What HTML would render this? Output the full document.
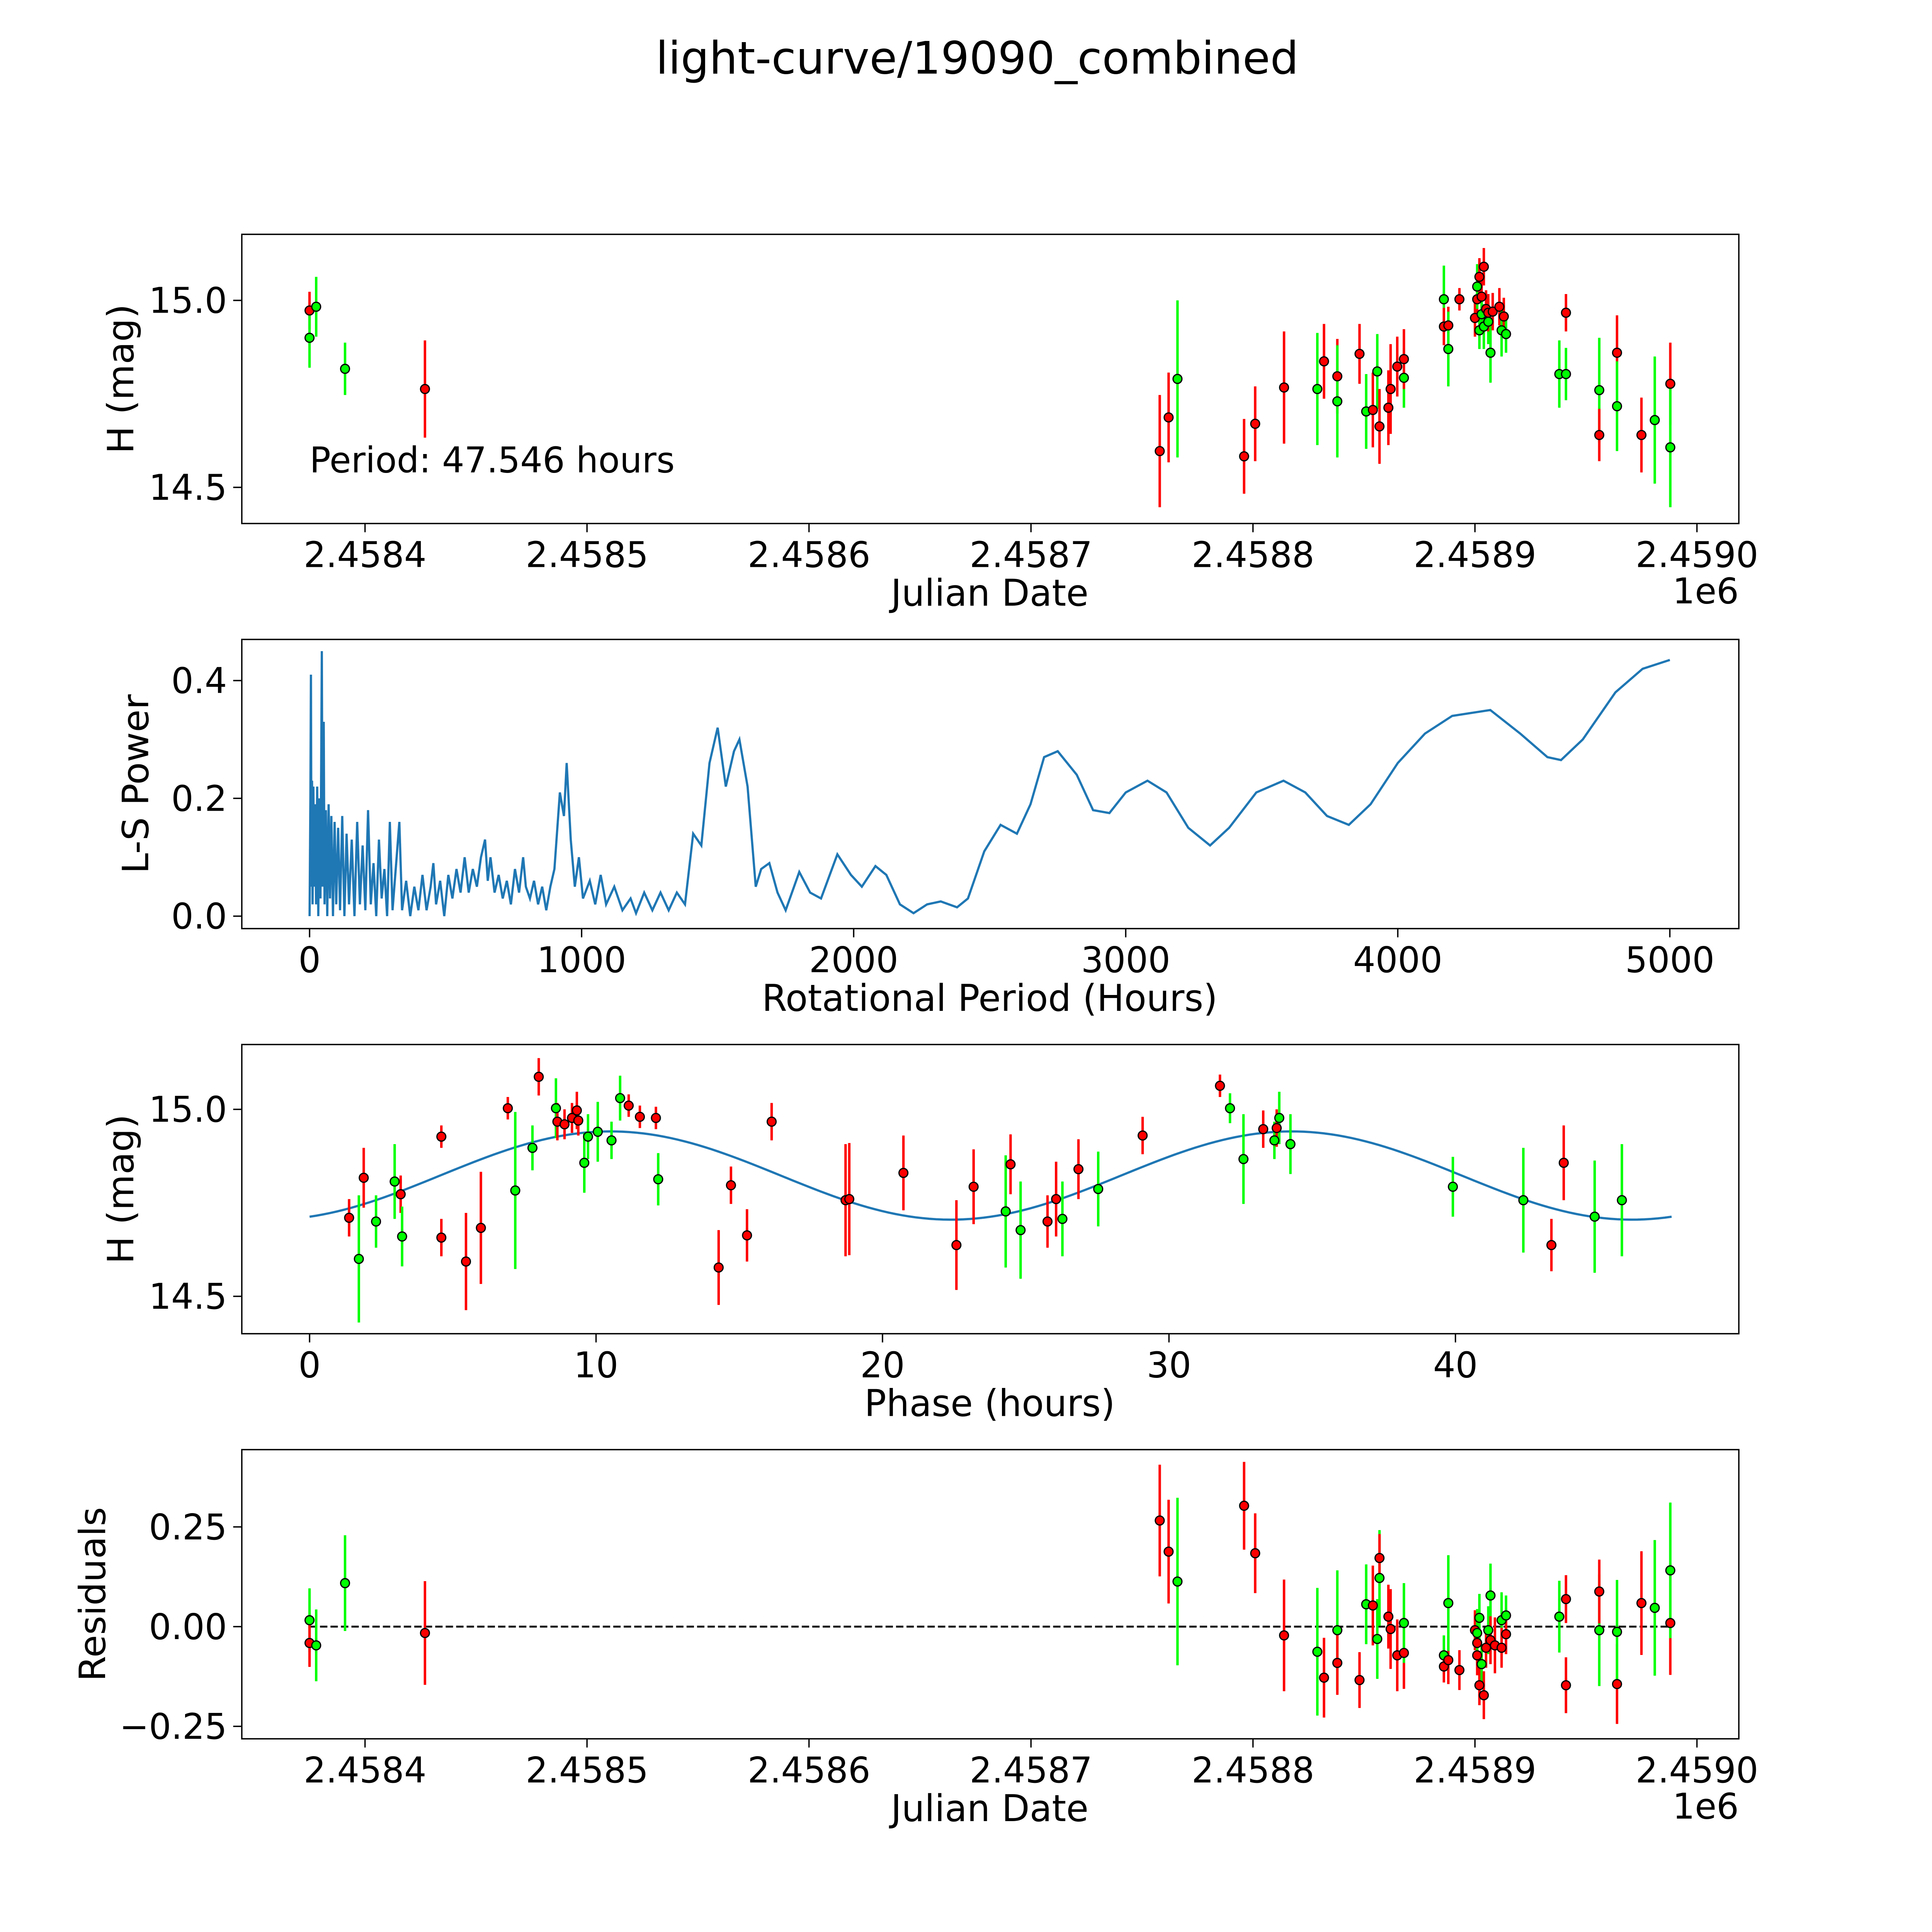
<!DOCTYPE html>
<html><head><meta charset="utf-8"><style>
html,body{margin:0;padding:0;background:#fff;overflow:hidden;width:100%;height:100%}
svg{display:block;width:100vw;height:100vh}
text{font-family:"DejaVu Sans","Liberation Sans",sans-serif;fill:#000}
</style></head><body>
<svg id="fig" xmlns="http://www.w3.org/2000/svg" viewBox="0 0 1550 1550" preserveAspectRatio="xMinYMin meet">
<rect width="1550" height="1550" fill="#fff"/>
<text x="784" y="59" font-size="36" text-anchor="middle">light-curve/19090_combined</text>
<g id="plots" transform="translate(194,0) scale(0.9885,1) translate(-196,0)"></g>
</svg>
<script>
// ---------- Panel 1: light curve ----------
const lcJd = [2458375,2458375,2458378,2458391,2458427,2458758,2458762,2458766,2458796,2458801,2458814,2458829,2458832,2458838,2458838,2458848,2458851,2458854,2458856,2458857,2458861,2458862,2458865,2458868,2458868,2458886,2458886,2458888,2458888,2458893,2458900,2458901,2458901,2458902,2458902,2458903,2458903,2458904,2458904,2458905,2458906,2458906,2458907,2458908,2458911,2458912,2458913,2458914,2458938,2458941,2458941,2458956,2458956,2458964,2458964,2458975,2458981,2458988,2458988];
const lcMag = [14.973,14.90,14.983,14.817,14.763,14.597,14.687,14.79,14.583,14.67,14.767,14.763,14.837,14.797,14.73,14.857,14.703,14.707,14.81,14.663,14.713,14.763,14.823,14.793,14.843,15.003,14.93,14.933,14.87,15.003,14.953,15.003,15.037,15.063,14.92,15.01,14.963,15.09,14.93,14.977,14.943,14.967,14.86,14.97,14.983,14.92,14.957,14.91,14.803,14.967,14.803,14.76,14.64,14.86,14.717,14.64,14.68,14.777,14.607];
const lcErr = [0.05,0.08,0.08,0.07,0.13,0.15,0.12,0.21,0.1,0.1,0.15,0.15,0.1,0.1,0.15,0.08,0.1,0.1,0.1,0.1,0.1,0.12,0.08,0.08,0.08,0.09,0.05,0.05,0.1,0.03,0.05,0.05,0.06,0.05,0.05,0.06,0.05,0.05,0.06,0.05,0.06,0.05,0.08,0.05,0.05,0.07,0.05,0.05,0.09,0.05,0.07,0.14,0.07,0.1,0.12,0.1,0.17,0.11,0.16];
const lcCol = ['r','g','g','g','r','r','r','g','r','r','r','g','r','r','g','r','g','r','g','r','r','r','r','g','r','g','r','r','g','r','r','r','g','r','g','r','g','r','g','r','g','r','g','r','r','g','r','g','g','r','g','g','r','r','g','r','g','r','g'];
const jdTicks = [2458400,2458500,2458600,2458700,2458800,2458900,2459000];
const jdTickLabels = ['2.4584','2.4585','2.4586','2.4587','2.4588','2.4589','2.4590'];
const magTicks = [14.5,15.0];
const magTickLabels = ['14.5','15.0'];

// ---------- Panel 2: periodogram ----------
const lsPeriod = [0,3,5,7,9,11,14,17,20,24,28,32,36,40,45,48,52,55,60,65,70,75,80,86,92,98,105,112,120,128,136,145,155,165,175,185,195,205,215,225,235,245,255,265,275,285,295,305,315,330,340,355,370,385,400,415,430,445,455,465,480,495,510,525,540,555,570,585,600,615,630,645,655,665,680,695,710,725,740,755,770,785,795,810,825,840,855,870,885,900,920,935,945,960,975,990,1005,1030,1050,1070,1090,1120,1150,1180,1200,1230,1260,1290,1320,1350,1380,1410,1440,1470,1500,1530,1560,1580,1610,1640,1660,1690,1720,1750,1800,1840,1880,1940,1990,2030,2080,2120,2170,2220,2270,2320,2380,2420,2480,2540,2600,2650,2700,2750,2820,2880,2940,3000,3080,3150,3230,3310,3380,3480,3580,3660,3740,3820,3900,4000,4100,4200,4340,4450,4550,4600,4680,4800,4900,5000];
const lsPower = [0,0.2,0.41,0.05,0.23,0.02,0.22,0.05,0.19,0.02,0.22,0.0,0.2,0.03,0.45,0.05,0.33,0.02,0.18,0.0,0.19,0.03,0.17,0.0,0.16,0.02,0.15,0.01,0.17,0.0,0.14,0.02,0.13,0.0,0.16,0.02,0.12,0.01,0.18,0.02,0.09,0.0,0.13,0.03,0.08,0.0,0.16,0.01,0.07,0.16,0.01,0.06,0.0,0.05,0.01,0.07,0.01,0.05,0.09,0.02,0.06,0.0,0.07,0.03,0.08,0.04,0.1,0.04,0.08,0.05,0.1,0.13,0.06,0.1,0.04,0.07,0.03,0.06,0.02,0.08,0.04,0.1,0.05,0.03,0.06,0.02,0.05,0.01,0.05,0.08,0.21,0.17,0.26,0.13,0.05,0.10,0.03,0.06,0.02,0.07,0.02,0.05,0.01,0.03,0.005,0.04,0.01,0.04,0.01,0.04,0.02,0.14,0.12,0.26,0.32,0.22,0.28,0.30,0.22,0.05,0.08,0.09,0.04,0.01,0.075,0.04,0.03,0.105,0.07,0.05,0.085,0.07,0.02,0.005,0.02,0.025,0.015,0.03,0.11,0.155,0.14,0.19,0.27,0.28,0.24,0.18,0.175,0.21,0.23,0.21,0.15,0.12,0.15,0.21,0.23,0.21,0.17,0.155,0.19,0.26,0.31,0.34,0.35,0.31,0.27,0.265,0.3,0.38,0.42,0.435];
const perTicks = [0,1000,2000,3000,4000,5000];
const powTicks = [0,0.2,0.4];
const powTickLabels = ['0.0','0.2','0.4'];

// ---------- Panel 3: phased ----------
const phPhase = [1.38,1.72,1.89,2.32,2.97,3.18,3.23,4.60,4.60,5.46,5.98,6.92,7.18,7.78,8.0,8.6,8.65,8.9,9.16,9.33,9.38,9.59,9.72,10.06,10.54,10.84,11.14,11.53,12.09,12.17,14.28,14.71,15.27,16.13,18.71,18.84,20.73,22.58,23.18,24.3,24.47,24.82,25.76,26.06,26.28,26.84,27.53,29.08,31.78,32.13,32.6,33.29,33.68,33.76,33.85,34.24,39.91,42.37,43.35,43.78,44.86,45.81];
const phMag = [14.71,14.60,14.817,14.70,14.807,14.773,14.66,14.657,14.927,14.593,14.683,15.003,14.783,14.897,15.087,15.003,14.967,14.96,14.977,14.997,14.97,14.857,14.927,14.94,14.917,15.03,15.01,14.98,14.977,14.813,14.577,14.797,14.663,14.967,14.757,14.76,14.83,14.637,14.793,14.727,14.853,14.677,14.70,14.76,14.707,14.84,14.787,14.93,15.063,15.003,14.867,14.947,14.917,14.95,14.977,14.907,14.793,14.757,14.637,14.857,14.713,14.757];
const phErr = [0.05,0.17,0.08,0.07,0.1,0.05,0.08,0.05,0.03,0.13,0.15,0.03,0.21,0.06,0.05,0.08,0.05,0.04,0.04,0.05,0.04,0.08,0.06,0.08,0.05,0.06,0.03,0.03,0.03,0.07,0.1,0.05,0.07,0.05,0.15,0.15,0.1,0.12,0.1,0.15,0.08,0.13,0.07,0.1,0.1,0.08,0.1,0.05,0.03,0.04,0.12,0.05,0.05,0.05,0.07,0.08,0.08,0.14,0.07,0.1,0.15,0.15];
const phCol = ['r','g','r','g','g','r','g','r','r','r','r','r','g','g','r','g','r','r','r','r','r','g','g','g','g','g','r','r','r','g','r','r','r','r','r','r','r','r','r','g','r','g','r','r','g','r','g','r','r','g','g','r','g','r','g','g','g','g','r','r','g','g'];
const fitParams = [14.823, 0.118, 23.773, 10.5, 47.546]; // mean, amplitude, half-period, peak phase, period
const phTicks = [0,10,20,30,40];

// ---------- Panel 4: residuals ----------
const resJd = [2458375,2458375,2458378,2458391,2458427,2458758,2458762,2458766,2458796,2458801,2458814,2458829,2458832,2458838,2458838,2458848,2458851,2458854,2458856,2458857,2458857,2458861,2458862,2458865,2458868,2458868,2458886,2458886,2458888,2458888,2458893,2458900,2458901,2458901,2458901,2458902,2458902,2458903,2458904,2458905,2458906,2458907,2458907,2458909,2458912,2458912,2458914,2458914,2458938,2458941,2458941,2458956,2458956,2458964,2458964,2458975,2458981,2458988,2458988];
const resVal = [0.016,-0.041,-0.047,0.109,-0.016,0.266,0.188,0.113,0.303,0.184,-0.022,-0.063,-0.128,-0.009,-0.091,-0.134,0.056,0.053,-0.031,0.122,0.172,0.025,-0.006,-0.072,-0.066,0.009,-0.072,-0.1,-0.084,0.059,-0.109,-0.009,-0.041,-0.072,-0.016,0.022,-0.147,-0.094,-0.172,-0.053,-0.009,0.078,-0.034,-0.047,0.016,-0.053,0.028,-0.019,0.025,0.069,-0.147,-0.009,0.088,-0.144,-0.013,0.059,0.047,0.009,0.141];
const resErr = [0.08,0.06,0.09,0.12,0.13,0.14,0.13,0.21,0.11,0.1,0.14,0.16,0.1,0.15,0.08,0.07,0.1,0.1,0.1,0.12,0.06,0.08,0.1,0.09,0.09,0.1,0.05,0.04,0.06,0.12,0.05,0.05,0.05,0.05,0.06,0.06,0.05,0.05,0.06,0.05,0.06,0.08,0.06,0.07,0.07,0.05,0.05,0.05,0.09,0.06,0.07,0.14,0.08,0.1,0.13,0.13,0.17,0.13,0.17];
const resCol = ['g','r','g','g','r','r','r','g','r','r','r','g','r','g','r','r','g','r','g','g','r','r','r','r','r','g','g','r','r','g','r','r','r','r','g','g','r','g','r','r','g','g','r','r','g','r','g','r','g','r','r','g','r','r','g','r','g','r','g'];
const resTicks = [-0.25,0,0.25];
const resTickLabels = ['\u22120.25','0.00','0.25'];

// ---------- drawing ----------
const root = document.getElementById('plots');
const NS = 'http://www.w3.org/2000/svg';
function mk(tag, attrs, parent) {
  const e = document.createElementNS(NS, tag);
  for (const k in attrs) e.setAttribute(k, attrs[k]);
  (parent || root).appendChild(e);
  return e;
}
function lin(d0, d1, p0, p1) { return v => p0 + (v - d0) * (p1 - p0) / (d1 - d0); }
const COL = { r: '#ff0000', g: '#00ff00' };

function axesFrame(name, top, xs, xt, xl, ys, yt, yl, xlabel, ylabel, ylabelX, g) {
  const fr = mk('rect', { x: 196, y: top, width: 1215, height: 232, fill: 'none', stroke: '#000', 'stroke-width': 1.1 }, g);
  
  
  xt.forEach((v, i) => {
    const x = xs(v);
    mk('line', { x1: x, x2: x, y1: top + 232, y2: top + 239, stroke: '#000', 'stroke-width': 1.1 }, g);
    const t = mk('text', { x: x, y: top + 267, 'font-size': 28.5, 'text-anchor': 'middle' }, g);
    t.textContent = xl[i];
    
    
  });
  yt.forEach((v, i) => {
    const y = ys(v);
    mk('line', { x1: 189, x2: 196, y1: y, y2: y, stroke: '#000', 'stroke-width': 1.1 }, g);
    const t = mk('text', { x: 184, y: y + 10, 'font-size': 28.5, 'text-anchor': 'end' }, g);
    t.textContent = yl[i];
    
    
  });
  const xa = mk('text', { x: 803, y: top + 298, 'font-size': 29.5, 'text-anchor': 'middle' }, g);
  xa.textContent = xlabel;
  
  
  const ya = mk('text', { x: ylabelX, y: top + 116, 'font-size': 29.5, 'text-anchor': 'middle', transform: `rotate(-90 ${ylabelX} ${top + 116})` }, g);
  ya.textContent = ylabel;
  
  
}

function errPoints(name, xsArr, ysArr, errArr, colArr, xs, ys, g) {
  xsArr.forEach((v, i) => {
    const x = xs(v);
    const l = mk('line', { x1: x, x2: x, y1: ys(ysArr[i] - errArr[i]), y2: ys(ysArr[i] + errArr[i]), stroke: COL[colArr[i]], 'stroke-width': 2 }, g);
    
    
  });
  xsArr.forEach((v, i) => {
    const c = mk('circle', { cx: xs(v), cy: ys(ysArr[i]), r: 3.6, fill: COL[colArr[i]], stroke: '#000', 'stroke-width': 1 }, g);
    
    
  });
}

const xJd = lin(2458400, 2459000, 296, 1377);

// Panel 1
{
  const g = mk('g', {});
  
  
  const ys = lin(14.5, 15.0, 391, 241);
  errPoints('light-curve', lcJd, lcMag, lcErr, lcCol, xJd, ys, g);
  axesFrame('light-curve', 188, xJd, jdTicks, jdTickLabels, ys, magTicks, magTickLabels, 'Julian Date', 'H (mag)', 108, g);
  const p = mk('text', { x: 251, y: 379, 'font-size': 28.5 }, g);
  p.textContent = 'Period: 47.546 hours';
  
  
  const e = mk('text', { x: 1411, y: 484, 'font-size': 28.5, 'text-anchor': 'end' }, g);
  e.textContent = '1e6';
  
  
}
// Panel 2
{
  const g = mk('g', {});
  
  
  const xs = lin(0, 1000, 251, 471.8), ys = lin(0, 0.4, 735, 546);
  const pts = lsPeriod.map((v, i) => xs(v).toFixed(2) + ',' + ys(lsPower[i]).toFixed(2)).join(' ');
  const pl = mk('polyline', { points: pts, fill: 'none', stroke: '#1f77b4', 'stroke-width': 1.8 }, g);
  
  
  axesFrame('periodogram', 513, xs, perTicks, perTicks.map(String), ys, powTicks, powTickLabels, 'Rotational Period (Hours)', 'L-S Power', 120, g);
}
// Panel 3
{
  const g = mk('g', {});
  
  
  const xs = lin(0, 10, 251, 483.5), ys = lin(14.5, 15.0, 1040, 890);
  const fit = [];
  for (let i = 0; i <= 200; i++) {
    const ph = fitParams[4] * i / 200;
    const m = fitParams[0] + fitParams[1] * Math.cos(2 * Math.PI * (ph - fitParams[3]) / fitParams[2]);
    fit.push(xs(ph).toFixed(2) + ',' + ys(m).toFixed(2));
  }
  const pl = mk('polyline', { points: fit.join(' '), fill: 'none', stroke: '#1f77b4', 'stroke-width': 1.8 }, g);
  
  
  errPoints('phased', phPhase, phMag, phErr, phCol, xs, ys, g);
  axesFrame('phased', 838, xs, phTicks, phTicks.map(String), ys, magTicks, magTickLabels, 'Phase (hours)', 'H (mag)', 108, g);
}
// Panel 4
{
  const g = mk('g', {});
  
  
  const ys = lin(0, 0.25, 1305, 1225);
  const z = mk('line', { x1: xJd(2458375), x2: xJd(2458988), y1: ys(0), y2: ys(0), stroke: '#000', 'stroke-width': 1.5, 'stroke-dasharray': '6,2.5' }, g);
  
  
  errPoints('residuals', resJd, resVal, resErr, resCol, xJd, ys, g);
  axesFrame('residuals', 1163, xJd, jdTicks, jdTickLabels, ys, resTicks, resTickLabels, 'Julian Date', 'Residuals', 85, g);
  const e = mk('text', { x: 1411, y: 1459, 'font-size': 28.5, 'text-anchor': 'end' }, g);
  e.textContent = '1e6';
  
  
}
</script>
</body></html>
